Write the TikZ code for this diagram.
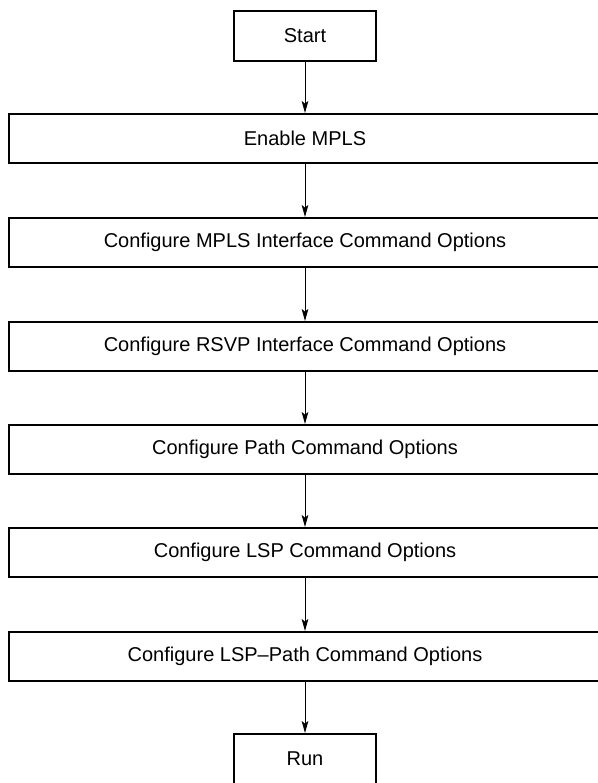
\documentclass[tikz,border=0pt]{standalone}
\usepackage{fontspec}
\setmainfont{Liberation Sans}
\usetikzlibrary{arrows.meta}

\begin{document}
\begin{tikzpicture}[
    x=0.75pt,
    y=-0.75pt,
    terminal/.style={
        draw=black,
        fill=white,
        line width=1.5pt,
        minimum width=106.5pt,
        minimum height=37.5pt,
        inner sep=0pt,
        font=\fontsize{15}{18}\selectfont
    },
    stepbox/.style={
        draw=black,
        fill=white,
        line width=1.5pt,
        minimum width=444pt,
        minimum height=36.75pt,
        inner sep=0pt,
        font=\fontsize{15}{18}\selectfont
    },
    flow/.style={
        -{Stealth[length=9pt,width=5pt,inset=2pt]},
        line width=0.75pt,
        black
    }
]

    % ==========================================
    % CANVAS
    % ==========================================
    \useasboundingbox (0,0) rectangle (598,783);
    \clip (0,0) rectangle (598,783);

    % ==========================================
    % NODES PLACEMENT
    % ==========================================

    % Start (Top)
    \node[terminal] (Start) at (305, 36) {Start};

    % Configuration steps
    \node[stepbox] (EnableMPLS) at (305, 138.5) {Enable MPLS};
    \node[stepbox] (MplsIf) at (305, 242.5) {Configure MPLS Interface Command Options};
    \node[stepbox] (RsvpIf) at (305, 346.5) {Configure RSVP Interface Command Options};
    \node[stepbox] (PathCfg) at (305, 449.5) {Configure Path Command Options};
    \node[stepbox] (LspCfg) at (305, 552.5) {Configure LSP Command Options};
    \node[stepbox] (LspPathCfg) at (305, 656.5) {Configure LSP--Path Command Options};

    % Run (Bottom)
    \node[terminal] (Run) at (305, 759) {Run};

    % ==========================================
    % CONNECTIONS
    % ==========================================

    \draw[flow] (Start) -- (EnableMPLS);
    \draw[flow] (EnableMPLS) -- (MplsIf);
    \draw[flow] (MplsIf) -- (RsvpIf);
    \draw[flow] (RsvpIf) -- (PathCfg);
    \draw[flow] (PathCfg) -- (LspCfg);
    \draw[flow] (LspCfg) -- (LspPathCfg);
    \draw[flow] (LspPathCfg) -- (Run);

\end{tikzpicture}
\end{document}
